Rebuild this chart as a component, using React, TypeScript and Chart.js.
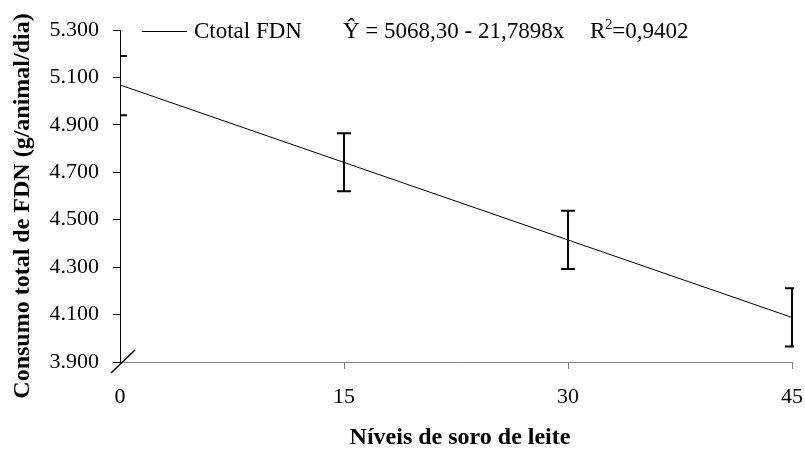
import React, { useEffect, useRef } from "react";
import { Chart, registerables } from "chart.js";

Chart.register(...registerables);

const levels = [0, 15, 30, 45];
const fittedValues = [5068.3, 4741.5, 4414.6, 4087.9];
const errorUpper = [5190, 4865, 4538, 4211];
const errorLower = [4940, 4620, 4292, 3965];
const yTickMin = 3900;
const yTickMax = 5300;
const yTickStep = 200;
const xTickStep = 15;
const legendLabel = "Ctotal FDN";
const equationText = "Ŷ = 5068,30 - 21,7898x";
const r2Prefix = "R";
const r2Sup = "2";
const r2Value = "=0,9402";
const yTitle = "Consumo total de FDN (g/animal/dia)";
const xTitle = "Níveis de soro de leite";

const FONT = '"Liberation Serif", "Times New Roman", serif';

const overlayPlugin = {
  id: "overlay",
  afterDatasetsDraw(chart: any) {
    const { ctx, chartArea, scales } = chart;
    const xs = scales.x;
    const ys = scales.y;
    // error bars
    ctx.save();
    ctx.beginPath();
    ctx.rect(chartArea.left, 0, chartArea.right - chartArea.left + 2, chart.height);
    ctx.clip();
    ctx.strokeStyle = "#000";
    ctx.lineWidth = 2;
    for (let i = 0; i < levels.length; i++) {
      const x = Math.round(xs.getPixelForValue(levels[i]));
      const yt = ys.getPixelForValue(errorUpper[i]);
      const yb = ys.getPixelForValue(errorLower[i]);
      ctx.beginPath();
      ctx.moveTo(x, yt);
      ctx.lineTo(x, yb);
      ctx.moveTo(x - 7, yt);
      ctx.lineTo(x + 7, yt);
      ctx.moveTo(x - 7, yb);
      ctx.lineTo(x + 7, yb);
      ctx.stroke();
    }
    ctx.restore();

    // axis break mark at origin
    ctx.save();
    const ox = xs.getPixelForValue(0);
    const oy = ys.getPixelForValue(yTickMin);
    ctx.strokeStyle = "#000";
    ctx.lineWidth = 1.5;
    ctx.beginPath();
    ctx.moveTo(ox - 9, oy + 11);
    ctx.lineTo(ox + 15, oy - 12);
    ctx.stroke();
    ctx.restore();

    // legend
    ctx.save();
    const ly = 31;
    ctx.strokeStyle = "#000";
    ctx.lineWidth = 1;
    ctx.beginPath();
    ctx.moveTo(142, ly + 0.5);
    ctx.lineTo(187, ly + 0.5);
    ctx.stroke();
    ctx.fillStyle = "#000";
    ctx.font = `23px ${FONT}`;
    ctx.textBaseline = "middle";
    ctx.textAlign = "left";
    ctx.fillText(legendLabel, 194, ly + 1);
    ctx.fillText(equationText, 343, ly + 1);
    let rx = 590;
    ctx.fillText(r2Prefix, rx, ly + 1);
    rx += ctx.measureText(r2Prefix).width;
    ctx.font = `14px ${FONT}`;
    ctx.fillText(r2Sup, rx, ly - 6);
    rx += ctx.measureText(r2Sup).width;
    ctx.font = `23px ${FONT}`;
    ctx.fillText(r2Value, rx, ly + 1);
    ctx.restore();

    // axis titles
    ctx.save();
    ctx.fillStyle = "#000";
    ctx.font = `bold 24px ${FONT}`;
    ctx.textAlign = "center";
    ctx.textBaseline = "middle";
    ctx.fillText(xTitle, 460, 438);
    ctx.translate(23, 206);
    ctx.rotate(-Math.PI / 2);
    ctx.fillText(yTitle, 0, 0);
    ctx.restore();
  },
};

export default function App() {
  const ref = useRef<HTMLCanvasElement | null>(null);
  useEffect(() => {
    if (!ref.current) return;
    const chart = new Chart(ref.current, {
      type: "scatter",
      data: {
        datasets: [
          {
            label: legendLabel,
            data: levels.map((x, i) => ({ x, y: fittedValues[i] })),
            showLine: true,
            borderColor: "#000",
            borderWidth: 1,
            pointRadius: 0,
            fill: false,
          },
        ],
      },
      options: {
        animation: false,
        responsive: true,
        maintainAspectRatio: false,
        layout: { padding: { left: 0, top: 30, right: 13, bottom: 0 } },
        plugins: {
          legend: { display: false },
          tooltip: { enabled: false },
        },
        scales: {
          x: {
            type: "linear",
            min: 0,
            max: 45,
            afterFit: (s: any) => {
              s.height = 88;
              s.paddingRight = 13;
              s.paddingLeft = 0;
            },
            ticks: {
              stepSize: xTickStep,
              color: "#000",
              font: { family: FONT, size: 22 },
              padding: 15,
              maxRotation: 0,
            },
            grid: {
              display: true,
              drawOnChartArea: false,
              drawTicks: true,
              tickLength: 7,
              color: (c: any) => (c.tick && c.tick.value === 0 ? "rgba(0,0,0,0)" : "#808080"),
            },
            border: { display: true, color: "#808080", width: 1 },
          },
          y: {
            type: "linear",
            min: yTickMin,
            max: yTickMax,
            afterFit: (s: any) => {
              s.width = 120;
              s.paddingTop = 0;
              s.paddingBottom = 0;
            },
            ticks: {
              stepSize: yTickStep,
              color: "#000",
              font: { family: FONT, size: 22 },
              padding: 14,
              callback: (v: any) => (Number(v) / 1000).toFixed(3),
            },
            grid: {
              display: true,
              drawOnChartArea: false,
              drawTicks: true,
              tickLength: 7,
              color: "#000",
            },
            border: { display: true, color: "#000", width: 1 },
          },
        },
      },
      plugins: [overlayPlugin],
    });
    return () => chart.destroy();
  }, []);
  return (
    <div style={{ position: "absolute", left: 0, top: 0, width: 805, height: 450, background: "#fff" }}>
      <canvas ref={ref} />
    </div>
  );
}
